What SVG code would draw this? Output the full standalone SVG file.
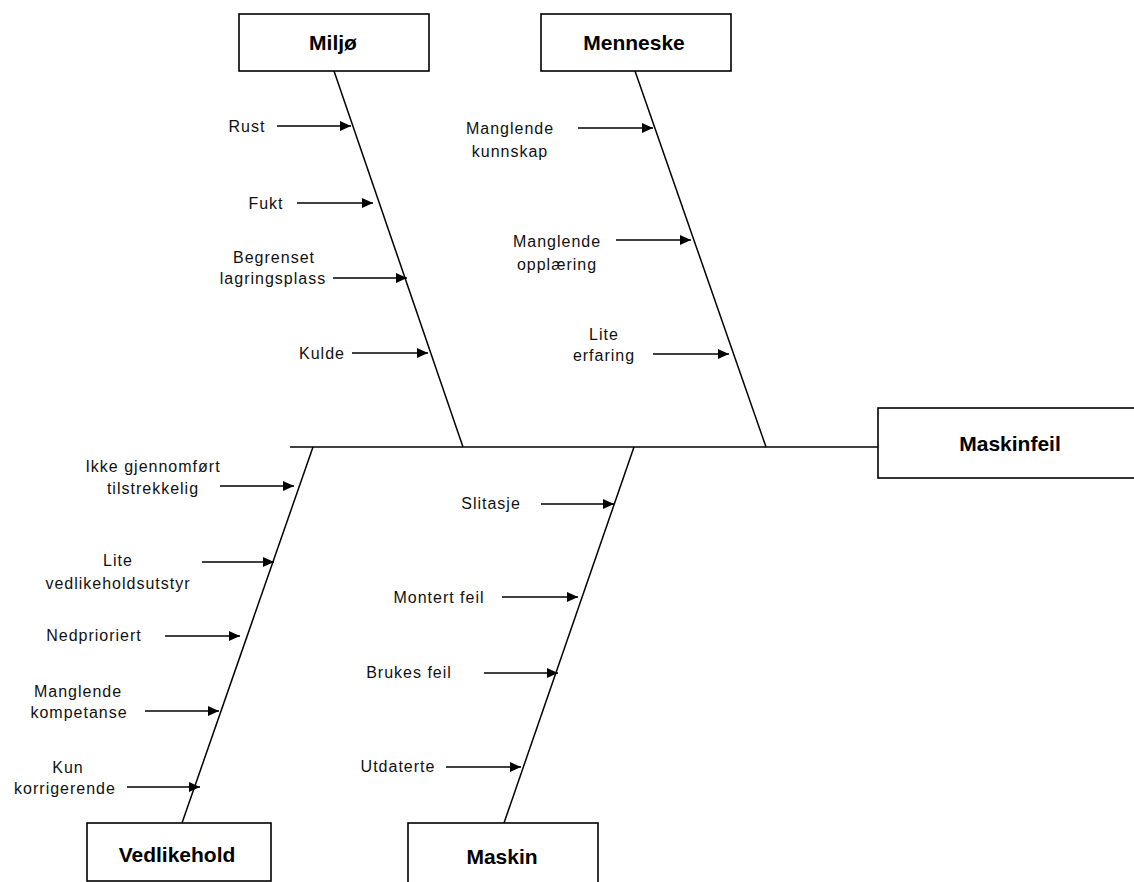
<svg xmlns="http://www.w3.org/2000/svg" width="1134" height="882" viewBox="0 0 1134 882">
  <defs>
    <marker id="head" markerUnits="userSpaceOnUse" markerWidth="12" markerHeight="10" refX="11" refY="5" orient="auto">
      <path d="M0,0 L11,5 L0,10 Z" fill="#000"/>
    </marker>
    <style>
      .box { fill: #fff; stroke: #000; stroke-width: 1.6; }
      .title { font-family: "Liberation Sans", Arial, sans-serif; font-weight: bold; font-size: 21px; fill: #000; text-anchor: middle; }
      .cause { font-family: "Liberation Sans", Arial, sans-serif; font-size: 16px; letter-spacing: 1px; fill: #111; text-anchor: middle; }
      .bone { stroke: #000; stroke-width: 1.5; fill: none; }
      .arrow { stroke: #000; stroke-width: 1.6; fill: none; marker-end: url(#head); }
    </style>
  </defs>
  <rect width="1134" height="882" fill="#fff"/>

  <!-- spine and category bones -->
  <g id="connectors">
    <line class="bone" x1="290" y1="447" x2="878" y2="447"/>
    <line class="bone" x1="334" y1="71" x2="463" y2="447"/>
    <line class="bone" x1="635" y1="71" x2="766" y2="447"/>
    <line class="bone" x1="313" y1="447" x2="182" y2="823"/>
    <line class="bone" x1="634" y1="447" x2="504" y2="823"/>

    <!-- Miljø causes -->
    <line class="arrow" x1="277" y1="126" x2="351" y2="126"/>
    <line class="arrow" x1="297" y1="203" x2="373" y2="203"/>
    <line class="arrow" x1="333" y1="278" x2="407" y2="278"/>
    <line class="arrow" x1="352" y1="353" x2="428" y2="353"/>

    <!-- Menneske causes -->
    <line class="arrow" x1="578" y1="128" x2="653" y2="128"/>
    <line class="arrow" x1="616" y1="240" x2="691" y2="240"/>
    <line class="arrow" x1="653" y1="354" x2="729" y2="354"/>

    <!-- Vedlikehold causes -->
    <line class="arrow" x1="220" y1="486" x2="294" y2="486"/>
    <line class="arrow" x1="202" y1="562" x2="274" y2="562"/>
    <line class="arrow" x1="165" y1="636" x2="240" y2="636"/>
    <line class="arrow" x1="145" y1="711" x2="219" y2="711"/>
    <line class="arrow" x1="127" y1="787" x2="200" y2="787"/>

    <!-- Maskin causes -->
    <line class="arrow" x1="541" y1="504" x2="614" y2="504"/>
    <line class="arrow" x1="502" y1="597" x2="578" y2="597"/>
    <line class="arrow" x1="484" y1="673" x2="558" y2="673"/>
    <line class="arrow" x1="446" y1="767" x2="521" y2="767"/>
  </g>

  <!-- effect -->
  <g id="maskinfeil">
    <rect class="box" x="878" y="408" width="264" height="70"/>
    <text class="title" x="1010" y="451">Maskinfeil</text>
  </g>

  <!-- categories -->
  <g id="miljo">
    <rect class="box" x="239" y="14" width="190" height="57"/>
    <text class="title" x="333" y="50">Miljø</text>
  </g>
  <g id="menneske">
    <rect class="box" x="541" y="14" width="190" height="57"/>
    <text class="title" x="634" y="50">Menneske</text>
  </g>
  <g id="vedlikehold">
    <rect class="box" x="87" y="823" width="184" height="58"/>
    <text class="title" x="177" y="862">Vedlikehold</text>
  </g>
  <g id="maskin">
    <rect class="box" x="408" y="823" width="190" height="70"/>
    <text class="title" x="502" y="864">Maskin</text>
  </g>

  <!-- Miljø cause labels -->
  <g id="miljo-causes">
    <text class="cause" x="247" y="132">Rust</text>
    <text class="cause" x="266" y="209">Fukt</text>
    <text class="cause" x="274" y="263">Begrenset</text>
    <text class="cause" x="273" y="284">lagringsplass</text>
    <text class="cause" x="322" y="359">Kulde</text>
  </g>

  <!-- Menneske cause labels -->
  <g id="menneske-causes">
    <text class="cause" x="510" y="134">Manglende</text>
    <text class="cause" x="510" y="157">kunnskap</text>
    <text class="cause" x="557" y="247">Manglende</text>
    <text class="cause" x="557" y="270">opplæring</text>
    <text class="cause" x="604" y="340">Lite</text>
    <text class="cause" x="604" y="361">erfaring</text>
  </g>

  <!-- Vedlikehold cause labels -->
  <g id="vedlikehold-causes">
    <text class="cause" x="153" y="472">Ikke gjennomført</text>
    <text class="cause" x="153" y="494">tilstrekkelig</text>
    <text class="cause" x="118" y="566">Lite</text>
    <text class="cause" x="118" y="589">vedlikeholdsutstyr</text>
    <text class="cause" x="94" y="641">Nedprioriert</text>
    <text class="cause" x="78" y="697">Manglende</text>
    <text class="cause" x="79" y="718">kompetanse</text>
    <text class="cause" x="68" y="773">Kun</text>
    <text class="cause" x="65" y="794">korrigerende</text>
  </g>

  <!-- Maskin cause labels -->
  <g id="maskin-causes">
    <text class="cause" x="491" y="509">Slitasje</text>
    <text class="cause" x="439" y="603">Montert feil</text>
    <text class="cause" x="409" y="678">Brukes feil</text>
    <text class="cause" x="398" y="772">Utdaterte</text>
  </g>
</svg>
